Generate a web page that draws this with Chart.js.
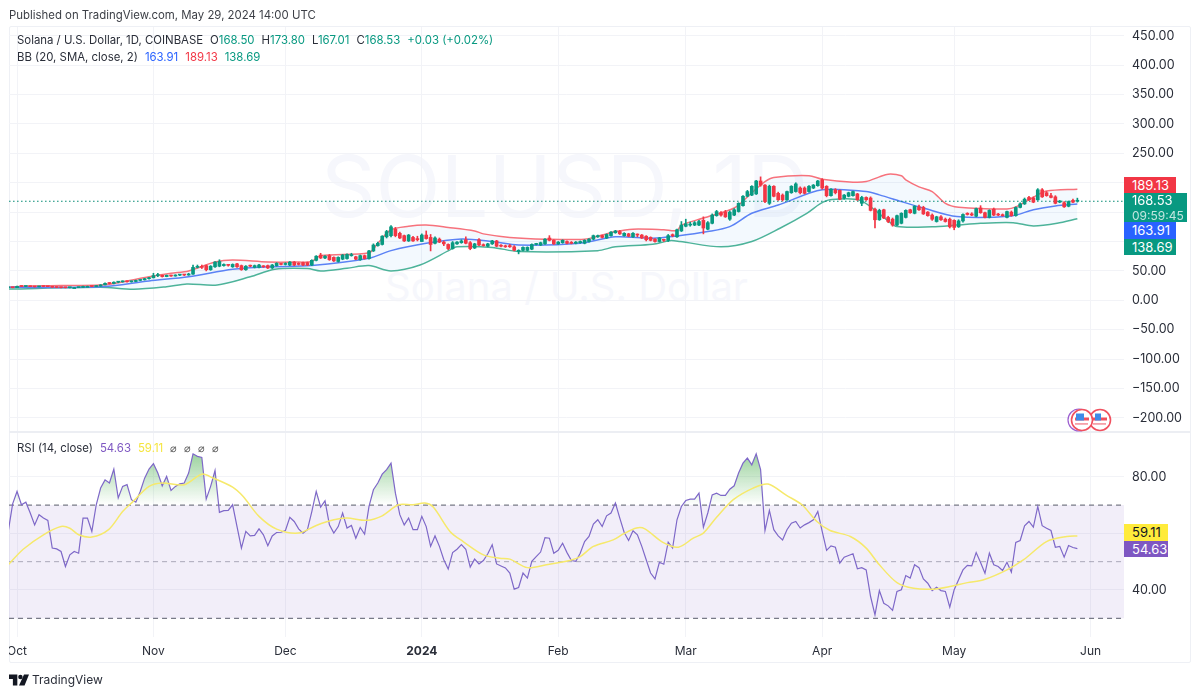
<!DOCTYPE html>
<html><head><meta charset="utf-8">
<script src="https://cdn.jsdelivr.net/npm/chart.js@4/dist/chart.umd.js"></script>
<style>
html,body{margin:0;padding:0;background:#fff;width:1200px;height:696px;overflow:hidden;font-family:Inter,"Noto Sans",sans-serif;color:#131722}
#all{position:absolute;left:0;top:0;width:1200px;height:696px;background:#fff;filter:blur(.35px)}
.abs{position:absolute;white-space:nowrap}
#frame{left:9px;top:26px;width:1180px;height:635px;border:1px solid #eef0f5;border-radius:2px;box-sizing:content-box}
#sep{left:9px;top:431px;width:1181px;height:2px;background:#eceef3}
#wm1{left:321px;top:131px;font-size:85px;line-height:112px;color:#f6f7fc}
#wm2{left:385px;top:264px;font-size:40px;line-height:46px;color:#f6f7fc}
canvas{position:absolute;left:0;top:0}
.t{font-size:11.4px;line-height:16px}
.tag{position:absolute;left:1124px;width:52px;box-sizing:border-box;padding-left:8px;font-size:13px;line-height:16.5px;color:#fff}
.g{color:#089981}.b{color:#2962ff}.r{color:#f23645}.p{color:#7e57c2}.y{color:#f5e53f}
.m{margin-left:7px}
</style></head><body><div id="all">
<div class="abs" id="frame"></div>
<div class="abs" id="wm1">SOLUSD, 1D</div>
<div class="abs" id="wm2">Solana / U.S. Dollar</div>
<canvas id="c" width="1200" height="696"></canvas>
<div class="abs" id="sep"></div>
<div class="abs" style="left:0;top:640px;width:9px;height:20px;background:#fff"></div>
<div class="abs t" style="left:9px;top:7px;color:#3c3f46">Published on TradingView.com, May 29, 2024 14:00 UTC</div>
<div class="abs t" style="left:17px;top:32px;color:#2a2e39">Solana / U.S. Dollar, 1D, COINBASE<span class="m">O</span><span class="g">168.50</span><span class="m">H</span><span class="g">173.80</span><span class="m">L</span><span class="g">167.01</span><span class="m">C</span><span class="g">168.53</span><span class="g m">+0.03 (+0.02%)</span></div>
<div class="abs t" style="left:17px;top:49px;color:#2a2e39">BB (20, SMA, close, 2)<span class="b m">163.91</span><span class="r m">189.13</span><span class="g m">138.69</span></div>
<div class="abs t" style="left:17px;top:440px;color:#2a2e39">RSI (14, close)<span class="p m">54.63</span><span class="y m">59.11</span><span class="m" style="color:#555">⌀</span><span class="m" style="color:#555">⌀</span><span class="m" style="color:#555">⌀</span><span class="m" style="color:#555">⌀</span></div>

<div class="tag" style="top:177px;height:16px;background:#f23645">189.13</div>
<div class="tag" style="top:193px;height:29px;width:63px;background:#089981;line-height:14.5px">168.53<br><span style="opacity:.75;font-size:12px">09:59:45</span></div>
<div class="tag" style="top:222px;height:17px;background:#2962ff">163.91</div>
<div class="tag" style="top:239px;height:16px;background:#089981">138.69</div>
<div class="tag" style="top:524px;height:17px;width:44px;background:#ffeb3b;color:#131722">59.11</div>
<div class="tag" style="top:541px;height:16px;width:44px;background:#7e57c2">54.63</div>

<svg class="abs" style="left:1066px;top:408px" width="46" height="24" viewBox="0 0 46 24">
<circle cx="13" cy="12" r="11" fill="#fff" stroke="#9c5fd0" stroke-width="1.2"/>
<g id="fl"><circle cx="34" cy="12" r="10.5" fill="#fff" stroke="#f0505f" stroke-width="1.6"/><rect x="27" y="9.5" width="14" height="3" fill="#f0505f"/><rect x="27" y="15" width="13" height="1.8" fill="#f6a0a8"/><rect x="29" y="5.5" width="6" height="7" fill="#3f8be8"/></g>
<circle cx="16" cy="12" r="10.5" fill="#fff" stroke="#f0505f" stroke-width="1.6"/><rect x="9" y="9.5" width="14" height="3" fill="#f0505f"/><rect x="9" y="15" width="13" height="1.8" fill="#f6a0a8"/><rect x="10" y="5.5" width="8" height="7" fill="#3f8be8"/>
</svg>

<svg class="abs" style="left:9px;top:674px" width="20" height="12" viewBox="0 0 36 20" fill="#131722"><path d="M0 0h15v20H7V8H0z"/><circle cx="20.5" cy="4.5" r="4"/><path d="M24 20L32 0h4l-8 20z M18 20l9-20h7l-8 20z"/></svg>
<div class="abs" style="left:32px;top:672px;font-size:12px;line-height:16px;color:#2a2e39">TradingView</div>
</div>
<script>
const startDay=-2;
const opens=[21.3,21.8,21.4,23.8,23.5,23.6,23.2,22.9,23.6,23.4,
23.2,22.2,21.8,21.6,21.4,21.6,21.6,21.9,23.6,23.6,
23.4,24.2,26.2,28.8,28.6,30.8,31.4,32.6,31.5,32,
33.8,34.8,36.8,38.3,42,42.5,40.3,42.5,41.3,42.8,
43.3,43,44.5,56,57,59,52,57,58,59,
60,57,62,59,52,59,56,56,58,59,
55,59,62,61,60,65,63,64,64,60,
68,77,72,76,73,66,70,71,76,74,
69,76,71,84,93,95,108,110,121,114,
110,101,107,105,100,111,107,97,104,99,
95,88,96,98,103,98,89,103,94,92,
96,101,93,92,93,91,83,85,85,87,
95,94,96,106,102,96,98,100,98,97,
98,97,100,104,108,110,106,110,115,117,
110,113,108,112,111,109,107,104,100,103,
102,111,108,118,126,128,128,128,136,121,
131,144,149,150,138,145,151,161,177,179,
181,203,196,165,194,182,179,171,183,185,
191,191,185,191,195,205,194,178,188,187,
174,177,178,181,165,175,174,155,137,154,
141,138,128,131,141,154,148,159,158,150,
145,134,142,138,138,136,125,135,148,147,
143,157,149,141,155,146,145,141,150,144,
158,164,175,174,171,188,183,178,176,167,
166,160,170,168.5];
const highs=[22.2,22,24.2,24.6,24,24.2,23.6,23.9,24,23.7,
23.3,22.4,22.1,21.8,21.9,21.9,22.2,24,24.2,23.9,
24.8,26.6,29.5,29.6,31.4,32.2,33,33.2,32.6,34.2,
35.2,37.4,39,46,46,43,43,43,43.5,44,
44,46,60,60,60,60,59,66,69,62,
61,62,63,60,59,60,60,61,59,60,
61,64,63,64,66,66,64,65,65,69,
76,80,76,78,74,74,78,79,80,75,
77,77,85,96,99,110,119,127,124,116,
111,112,109,109,113,118,112,108,106,101,
96,100,100,103,108,100,97,105,96,97,
102,102,95,94,95,93,86,91,91,96,
97,99,105,110,103,100,103,101,100,100,
101,103,105,111,111,111,113,117,119,119,
115,114,115,113,112,110,108,105,107,104,
112,113,121,134,138,133,134,136,142,134,
147,153,151,153,152,156,166,178,187,195,
204,210,197,196,195,184,181,186,195,200,
193,193,195,197,204,207,195,190,190,188,
180,184,186,182,177,176,176,157,155,155,
143,140,145,149,154,155,161,162,160,151,
147,143,144,140,140,137,137,147,149,149,
157,161,150,154,157,148,147,152,152,159,
166,174,177,176,190,190,185,182,178,170,
168,169,172,173.8];
const lows=[21,21.2,21.3,23.2,23,23.1,22.5,22.6,23.2,23,
21.9,21.6,21.2,21,21.2,21.3,21.5,21.8,23.2,23,
23.2,24,26,27.8,28,29.8,30.8,31,30.8,31.6,
33.2,34.4,36,38,40,39.5,40,40.5,41,42,
42,42.5,44,55,54,50,51,56,57,58,
58,56,56,51,51,57,55,55,56,54,
54,58,60,60,59,59,60,59,59,59,
67,71,71,68,66,65,69,70,75,69,
68,70,70,83,92,94,106,108,108,105,
100,100,100,101,100,104,84,96,98,93,
86,87,95,97,96,86,88,93,92,91,
95,91,91,90,90,84,79,84,84,86,
94,93,95,101,95,95,97,96,96,96,
97,96,99,103,107,106,105,109,114,112,
109,108,107,108,105,101,101,99,99,100,
100,108,107,117,125,126,127,127,113,120,
130,143,143,141,136,144,150,160,176,178,
180,194,166,163,176,170,169,170,182,184,
181,181,184,190,194,189,176,177,181,171,
172,176,177,170,161,170,152,123,136,139,
132,126,127,130,140,148,147,153,146,143,
136,133,136,133,123,120,124,133,145,144,
142,148,140,140,144,144,143,140,143,143,
157,163,170,166,170,175,177,174,164,166,
158,159,166,167.01];
const closes=[21.8,21.4,23.8,23.5,23.6,23.2,22.9,23.6,23.4,23.2,
22.2,21.8,21.6,21.4,21.6,21.6,21.9,23.6,23.6,23.4,
24.2,26.2,28.8,28.6,30.8,31.4,32.6,31.5,32,33.8,
34.8,36.8,38.3,42,42.5,40.3,42.5,41.3,42.8,43.3,
43,44.5,56,57,56,52,58,65,66,61,
59.5,61,57,52,58,58,59,60,57,55,
60,63,61,62,65,60,61,60,60,68,
75,72,75,69,67,73,77,78,77,70,
76,71,84,94,97,109,117,125,110,106,
101,111,101,103,111,105,95,106,99,96,
88,98,99,101,97,88,96,94,93,96,
101,92,92,91,91,85,85,90,90,95,
96,98,104,102,96,99,102,97,97,99,
100,102,104,110,110,107,112,116,118,113,
114,109,114,111,106,103,102,100,106,102,
110,110,120,128,130,129,132,134,123,132,
145,151,145,142,150,154,165,177,185,194,
203,196,168,194,177,171,171,185,194,198,
183,182,194,196,203,191,178,189,183,172,
179,183,185,171,175,171,153,137,153,140,
134,128,144,148,153,149,160,154,147,144,
138,142,137,134,125,124,135,146,146,145,
156,149,141,153,145,145,144,151,144,158,
164,172,171,167,188,176,178,175,165,168,
159,168,167,168.53];
const rsiValues=[60.7,70.4,74.8,70.1,71.0,67.2,63.0,66.6,65.4,64.6,
54.8,54.5,53.6,48.3,52.4,53.6,53.0,65.4,65.4,60.7,
70.1,76.0,78.9,77.8,82.7,72.5,76.6,77.2,71.9,71.0,
74.8,79.5,82.7,84.6,81.3,76.8,80.1,75.2,76.6,77.5,
77.8,81.3,88.1,87.2,86.8,72.1,76.6,82.2,67.4,68.0,
68.1,70.1,62.4,54.8,60.7,59.1,59.3,61.6,59.5,55.6,
59.1,60.3,60.4,61.0,65.7,64.2,61.6,60.1,61.3,67.7,
74.8,69.3,71.5,63.0,60.1,62.4,67.2,61.9,62.8,58.3,
62.1,59.7,69.5,75.4,77.8,80.9,82.5,84.8,74.2,66.6,
63.0,65.4,61.3,61.3,66.0,62.4,55.4,59.1,55.4,50.7,
47.4,53.2,54.4,56.0,54.4,48.1,50.9,49.2,50.4,52.8,
56.0,49.2,48.5,47.8,46.0,40.3,40.9,46.0,44.2,50.1,
51.8,53.4,58.5,58.3,53.0,54.0,56.5,53.2,50.4,50.1,
53.0,57.1,58.9,63.3,64.8,62.4,66.2,67.2,70.7,65.4,
60.3,57.5,60.9,59.5,55.4,50.7,46.0,43.9,49.8,49.1,
56.9,54.8,64.8,69.5,71.6,72.1,72.1,74.2,62.2,67.2,
73.6,74.2,73.4,73.4,75.6,76.8,81.3,84.8,86.6,84.2,
88.1,82.5,61.0,68.1,61.3,59.1,57.7,61.3,63.6,64.2,
61.9,63.0,63.8,64.8,67.7,60.7,54.0,55.6,55.1,49.5,
51.6,52.2,52.8,47.5,47.9,47.1,37.7,31.2,39.8,35.3,
34.4,32.8,39.5,40.1,45.1,44.2,48.9,47.9,43.9,42.4,
39.8,41.0,39.8,39.5,33.9,40.1,43.6,47.1,48.7,48.5,
53.2,49.7,45.9,53.0,48.9,48.3,46.9,49.8,46.3,56.8,
57.5,62.7,64.2,62.2,69.5,62.7,61.8,61.0,55.1,55.4,
51.6,55.7,55.0,54.63];
const rsiMaDays=[-2,1.4,6,10,12,14,17,20.8,24,26.4,30,33,38,42,44.6,49,51.4,55,59,64,68,72,75,79.5,83,86.7,90,92.7,94.6,98.4,101.4,106,109.7,112,116,120.3,125.6,128,131,135.5,137.8,140.8,142.7,146.8,150.3,153.7,156,159,162.8,167.3,170.7,174.9,178.4,181.8,184.8,189.4,193,196,200,203.8,208.3,212,216,219.7,225,228.8,234,238.6,241];
const rsiMaValues=[48.9,54.4,59.5,62.4,61.8,59.5,58.7,61.3,67.7,71.3,76.6,77.8,77.2,80.9,79.5,76.3,73.0,66,61.5,60.1,62.8,64.8,65.4,64.6,66.2,70.1,70.1,70.7,69.3,60.7,57.1,52.4,51.2,50.9,47.9,48.9,50.4,51.8,55.4,57.7,59.8,61.9,61.6,56.8,55.1,58.3,60.1,65.7,71.9,76,77.4,73.4,70.1,64.2,61,58.9,54.8,48.9,42.6,40.6,40.3,41.2,42.6,43.6,47.1,50.7,57.1,58.9,59.11];
const bbUpperDays=[-2,3,10,19,23,30,35,39,45,49,57,64,67,69,80,82,85,89,93,98,104,106,112,120,129,133,136,140,147,150,151,156,163,167,170,172,180,183,190,193,196,198,201,202,205,208,211,214,225,227,232,234,241];
const bbUpper=[22,24.5,25,26,30,40,46,50,65,68.5,65,65,66,76,81,97,120,126,128,124,118,113,107,104,104,111,117,121,120,118.6,128,140,157,183,202,209,212,206,201,202,210,214.6,212,205,193,185,165,158.5,155.5,159,179.4,186,189.13];
const bbMidDays=[-2,19,30,39,49,57,67,80,85,93,101,108,114,128,136,144.5,150,157,162,167,173,183,193,196,201,206,213.6,226,231,236,241];
const bbMid=[22,23,33,40,53,57,59,71.5,84.5,97,104.4,100,94,97,108,105.6,109.5,117,125.4,148,162,188,185,179.4,168,157,142.5,143.6,154,160.6,163.91];
const bbLowerDays=[-2,19,26.5,34,38.6,45.5,53,58.6,66,69,75,80,85,91.6,98.4,100,108,114,132,136,144.5,148.4,150.7,160,167,173.4,179.5,182.5,184.8,191.6,197.7,200,208,213.6,219,226.4,231,236.4,241];
const bbLower=[19,22,18.7,23,27.8,26,40,52.8,54,50,54.5,59,50,60,85.7,91,90,83,84.5,91,95.4,101.5,100,91,100,122.6,148,164,171,170,137,125.4,125,128,131,132,126.6,131,138.69];
const priceTicks=[450,400,350,300,250,200,150,100,50,0,-50,-100,-150,-200];
const priceTicksHidden=[200,150,100];
const rsiTicks=[80,60,40];
const rsiTicksHidden=[60];
const monthDays=[0,31,61,92,123,152,183,213,244];
const monthLabels=['Oct','Nov','Dec','2024','Feb','Mar','Apr','May','Jun'];
const lastClose=168.53, obLevel=70, midLevel=50, osLevel=30;
const xMin=-1.82, xMax=251.6;

const days=closes.map((_,i)=>startDay+i);
const pair=(xs,ys)=>xs.map((x,i)=>({x,y:ys[i]}));
const span=v=>[{x:xMin,y:v},{x:xMax,y:v}];
const UP='#089981',DOWN='#f23645';
const barColor=days.map((_,i)=>closes[i]>=opens[i]?UP:DOWN);

const line=(o)=>Object.assign({type:'line',pointRadius:0,borderWidth:1,tension:0,spanGaps:true,fill:false},o);

const chart=new Chart(document.getElementById('c').getContext('2d'),{
  data:{datasets:[
    line({label:'BB upper',data:pair(bbUpperDays,bbUpper),yAxisID:'y',borderColor:'#f7727c',borderWidth:1.5,tension:.3,
      fill:'+1',backgroundColor:'rgba(33,150,243,0.055)',order:9}),
    line({label:'BB lower',data:pair(bbLowerDays,bbLower),yAxisID:'y',borderColor:'#4db39a',borderWidth:1.5,tension:.3,order:8}),
    line({label:'BB basis',data:pair(bbMidDays,bbMid),yAxisID:'y',borderColor:'#5b82f5',borderWidth:1.5,tension:.3,order:7}),
    line({label:'Last',data:span(lastClose),yAxisID:'y',borderColor:'#028a72',borderWidth:1.2,borderDash:[1.5,2.5],order:6}),
    {type:'bar',label:'Wick',data:days.map((d,i)=>({x:d,y:[lows[i],highs[i]]})),yAxisID:'y',backgroundColor:barColor,barThickness:1,grouped:false,order:3,borderSkipped:false},
    {type:'bar',label:'Body',data:days.map((d,i)=>({x:d,y:[opens[i],closes[i]]})),yAxisID:'y',backgroundColor:barColor,barThickness:3,grouped:false,minBarLength:1,order:2,borderSkipped:false},
    line({label:'RSI upper band',data:span(obLevel),yAxisID:'rsi',borderColor:'#787b86',borderWidth:1.2,borderDash:[5,4],fill:'+1',backgroundColor:'rgba(126,87,194,0.1)',order:9}),
    line({label:'RSI lower band',data:span(osLevel),yAxisID:'rsi',borderColor:'#787b86',borderWidth:1.2,borderDash:[5,4],order:9}),
    line({label:'RSI middle band',data:span(midLevel),yAxisID:'rsi',borderColor:'rgba(120,123,134,.6)',borderDash:[5,4],order:9}),
    line({label:'RSI',data:pair(days,rsiValues),yAxisID:'rsi',borderColor:'#7e68c8',borderWidth:1.2,order:4,
      fill:{target:{value:obLevel},below:'rgba(0,0,0,0)'},
      backgroundColor:(ctx)=>{const s=ctx.chart.scales.rsi;if(!s)return 'rgba(0,0,0,0)';
        const a=s.getPixelForValue(88),b=s.getPixelForValue(obLevel);
        if(!isFinite(a)||!isFinite(b))return 'rgba(0,0,0,0)';
        const g=ctx.chart.ctx.createLinearGradient(0,a,0,b);
        g.addColorStop(0,'rgba(76,175,80,0.55)');g.addColorStop(1,'rgba(76,175,80,0)');return g;}}),
    line({label:'RSI MA',data:pair(rsiMaDays,rsiMaValues),yAxisID:'rsi',borderColor:'#f6e96b',borderWidth:1.5,tension:.3,order:3})
  ]},
  options:{
    responsive:false,animation:false,devicePixelRatio:1,events:[],
    layout:{padding:{left:9,right:10,top:27,bottom:34}},
    plugins:{legend:{display:false},tooltip:{enabled:false}},
    scales:{
      x:{type:'linear',min:xMin,max:xMax,position:'bottom',offset:false,
        grid:{color:'#f2f3f7',drawTicks:false,offset:false},border:{display:false},
        afterBuildTicks:s=>{s.ticks=monthDays.map(v=>({value:v}));},
        afterFit:s=>{s.height=25;},
        ticks:{autoSkip:false,maxRotation:0,padding:7,color:'#2a2e39',
          font:c=>({family:'Inter',size:12,weight:monthLabels[monthDays.indexOf(c.tick&&c.tick.value)]==='2024'?'700':'400'}),
          callback:v=>monthLabels[monthDays.indexOf(v)]}},
      y:{type:'linear',position:'right',stack:'panes',stackWeight:405,min:-224.1,max:465,
        grid:{color:'#f2f3f7',drawTicks:false},border:{display:false},
        afterBuildTicks:s=>{s.ticks=priceTicks.map(v=>({value:v}));},
        afterFit:s=>{s.width=66;},
        ticks:{padding:8,color:'#2a2e39',font:{family:'Inter',size:12.5},autoSkip:false,
          callback:v=>priceTicksHidden.includes(v)?'':(v<0?'\u2212':'')+Math.abs(v).toFixed(2)}},
      rsi:{type:'linear',position:'right',stack:'panes',stackWeight:205,min:23.4,max:95.8,
        grid:{color:'#f2f3f7',drawTicks:false},border:{display:false},
        afterBuildTicks:s=>{s.ticks=rsiTicks.map(v=>({value:v}));},
        afterFit:s=>{s.width=66;},
        ticks:{padding:8,color:'#2a2e39',font:{family:'Inter',size:12.5},autoSkip:false,
          callback:v=>rsiTicksHidden.includes(v)?'':v.toFixed(2)}}
    }
  }
});
chart.update('none');
</script>
</body></html>
